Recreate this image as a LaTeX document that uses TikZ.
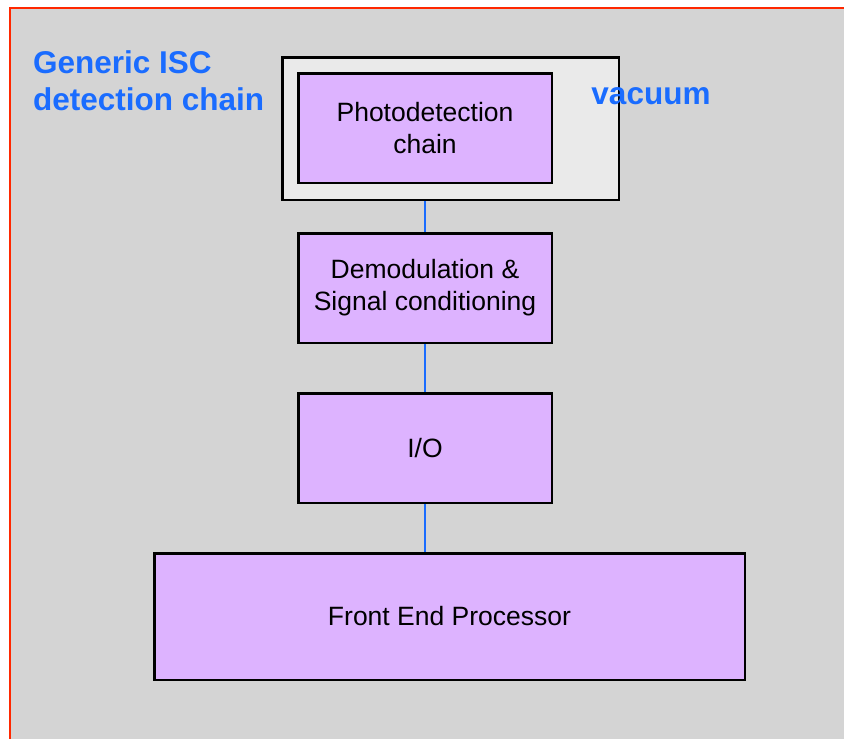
\documentclass[tikz,border=0pt]{standalone}
\usepackage{fontspec}
\setmainfont{Liberation Sans}
\usetikzlibrary{positioning}

\definecolor{bgGray}{RGB}{212,212,212}
\definecolor{vacGray}{RGB}{234,234,234}
\definecolor{boxPurple}{RGB}{221,179,255}
\definecolor{iscBlue}{RGB}{26,108,255}
\definecolor{frameRed}{RGB}{255,40,0}

\begin{document}
\begin{tikzpicture}[x=1pt,y=-1pt,
  node distance=48pt,
  block/.style={draw,line width=2.5pt,fill=boxPurple,minimum width=253.5pt,
    minimum height=109.5pt,align=center,font=\fontsize{26.5}{32}\selectfont},
  link/.style={draw=iscBlue,line width=2pt},
  heading/.style={text=iscBlue,inner sep=0pt,
    font=\fontsize{31.5}{37}\selectfont\bfseries}]
  \useasboundingbox (0,0) rectangle (844,739);
  \clip (0,0) rectangle (844,739);
  % background frame
  \fill[bgGray] (10,8) rectangle (860,760);
  \draw[frameRed,line width=2.5pt] (10,760) -- (10,8) -- (860,8);

  \node [heading,align=left,anchor=north west] (title) at (33,50) {Generic ISC\\detection chain};

  % vacuum tank
  \node [draw,line width=2.5pt,fill=vacGray,minimum width=336.5pt,
    minimum height=142.5pt]                    (vac) at (450.5,128.5) {};
  \node [heading,anchor=base]                  (vaclabel) at (651,104) {vacuum};

  \node [block]                                (photo) at (425,128) {Photodetection\\chain};
  \node [block] [below=48pt of photo]          (demod) {Demodulation \&\\Signal conditioning};
  \node [block] [below=48pt of demod]          (io) {I/O};
  \node [block,minimum width=590.5pt,minimum height=126.5pt]
        [below=48pt of io,xshift=24.5pt]       (fep) {Front End Processor};

  \path[link] (photo.south |- vac.south) -- (demod.north)
              (demod.south) -- (io.north)
              (io.south) -- (io.south |- fep.north);
\end{tikzpicture}
\end{document}
